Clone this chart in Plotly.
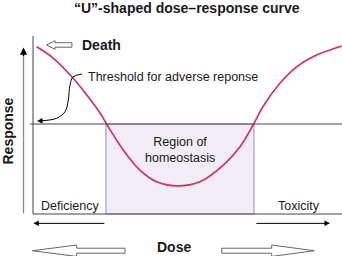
import plotly.graph_objects as go

# ---- data (dose / response units) ----
dose = [0.12, 0.66, 1.30, 1.74, 2.17, 2.38, 2.92, 3.46, 4.00, 4.70,
        5.40, 6.16, 6.70, 7.14, 7.44, 7.99, 8.53, 9.06, 9.99]
response = [9.29, 8.65, 7.54, 6.61, 5.61, 5.00, 3.56, 2.44, 1.79, 1.56,
            1.79, 2.72, 3.74, 5.00, 5.96, 7.26, 8.18, 8.74, 9.33]
threshold = 5.0
homeostasis = [2.36, 7.15]

title_text = "\u201cU\u201d-shaped dose\u2013response curve"
labels = {
    "death": "Death",
    "threshold": "Threshold for adverse reponse",
    "region": "Region of<br>homeostasis",
    "deficiency": "Deficiency",
    "toxicity": "Toxicity",
    "dose": "Dose",
    "response": "Response",
}

# curved pointer from the threshold label to the threshold line
ptr_x = [1.586, 1.294, 1.197, 1.142, 1.036, 0.767, 0.291]
ptr_y = [7.78, 7.61, 7.17, 6.33, 5.68, 5.32, 5.18]

FONT = "Arial, Liberation Sans, sans-serif"
CURVE = "#d42a5c"
AX = "#444444"

fig = go.Figure()

# homeostasis region
fig.add_shape(type="rect", x0=homeostasis[0], x1=homeostasis[1], y0=0, y1=threshold,
              fillcolor="#f1ecf5", line=dict(color="#a99cc9", width=1.2), layer="below")

# axes lines
fig.add_shape(type="line", x0=0, x1=0, y0=0, y1=9.9, line=dict(color=AX, width=1))
fig.add_shape(type="line", x0=0, x1=10, y0=0, y1=0, line=dict(color=AX, width=1))
fig.add_shape(type="line", x0=-0.1, x1=10, y0=threshold, y1=threshold,
              line=dict(color=AX, width=1))

# response arrow (grey shaft, black head)
fig.add_shape(type="line", x0=-0.307, x1=-0.307, y0=0.03, y1=9.0,
              line=dict(color="#8a8a8a", width=1.3))
fig.add_annotation(x=-0.307, y=9.25, ax=-0.307, ay=8.7, axref="x", ayref="y",
                   xref="x", yref="y", text="", showarrow=True, arrowhead=2,
                   arrowsize=1.1, arrowwidth=1.3, arrowcolor="black")

# the U curve
fig.add_trace(go.Scatter(x=dose, y=response, mode="lines",
                         line=dict(color=CURVE, width=1.6, shape="spline", smoothing=1),
                         hoverinfo="skip", showlegend=False))

# curved pointer
fig.add_trace(go.Scatter(x=ptr_x, y=ptr_y, mode="lines",
                         line=dict(color="black", width=1, shape="spline", smoothing=1),
                         hoverinfo="skip", showlegend=False))
fig.add_annotation(x=0.129, y=5.17, ax=0.34, ay=5.18, axref="x", ayref="y",
                   text="", showarrow=True, arrowhead=2, arrowsize=1.1,
                   arrowwidth=1, arrowcolor="black")


def hollow_arrow(tip, base, tail, yc, hs, hh, color="#666666"):
    d = 1 if tail > tip else -1
    pts = [(tip, yc), (base, yc + hh), (base, yc + hs), (tail, yc + hs),
           (tail, yc - hs), (base, yc - hs), (base, yc - hh)]
    path = "M " + " L ".join(f"{x},{y}" for x, y in pts) + " Z"
    fig.add_shape(type="path", path=path, fillcolor="white",
                  line=dict(color=color, width=1))


# Death arrow
hollow_arrow(0.438, 0.712, 1.26, 9.39, 0.125, 0.24)
# Dose arrows
hollow_arrow(-0.02, 1.414, 2.977, -2.04, 0.139, 0.317)
hollow_arrow(9.104, 7.725, 6.107, -2.04, 0.139, 0.317)

# small deficiency / toxicity arrows
fig.add_annotation(x=0.01, y=-0.52, ax=2.36, ay=-0.52, axref="x", ayref="y",
                   text="", showarrow=True, arrowhead=2, arrowsize=1.1,
                   arrowwidth=1, arrowcolor="black")
fig.add_annotation(x=9.61, y=-0.52, ax=7.18, ay=-0.52, axref="x", ayref="y",
                   text="", showarrow=True, arrowhead=2, arrowsize=1.1,
                   arrowwidth=1, arrowcolor="black")

# texts
def txt(x, y, s, size=12.5, bold=False, xanchor="center", angle=0):
    fig.add_annotation(x=x, y=y, text=f"<b>{s}</b>" if bold else s, showarrow=False,
                       xanchor=xanchor, yanchor="middle", textangle=angle,
                       font=dict(family=FONT, size=size, color="#1a1a1a"))


txt(4.97, 11.44, title_text, size=14, bold=True)
txt(1.52, 9.39, labels["death"], size=14, bold=True, xanchor="left")
txt(1.715, 7.61, labels["threshold"], xanchor="left")
txt(4.77, 3.58, labels["region"])
txt(1.21, 0.44, labels["deficiency"])
txt(8.62, 0.44, labels["toxicity"])
txt(4.55, -1.83, labels["dose"], size=14, bold=True)
txt(-0.793, 4.61, labels["response"], size=14, bold=True, angle=-90)

fig.update_layout(
    width=342, height=256, margin=dict(l=0, r=0, t=0, b=0),
    paper_bgcolor="white", plot_bgcolor="white", showlegend=False,
    xaxis=dict(range=[-1.068, 10.0], visible=False, fixedrange=True),
    yaxis=dict(range=[-2.333, 11.889], visible=False, fixedrange=True),
)

fig.write_html("out.html")
